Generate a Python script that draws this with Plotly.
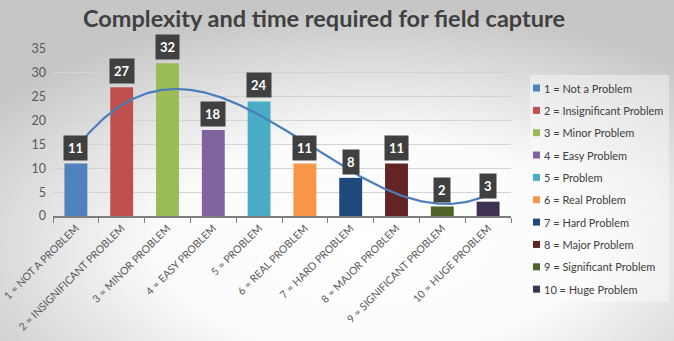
import numpy as np
import plotly.graph_objects as go
import base64

categories = ["1 = NOT A PROBLEM", "2 = INSIGNIFICANT PROBLEM", "3 = MINOR PROBLEM",
              "4 = EASY PROBLEM", "5 = PROBLEM", "6 = REAL PROBLEM", "7 = HARD PROBLEM",
              "8 = MAJOR PROBLEM", "9 = SIGNIFICANT PROBLEM", "10 = HUGE PROBLEM"]
legend_names = ["1 = Not a Problem", "2 = Insignificant Problem", "3 = Minor Problem",
                "4 = Easy Problem", "5 = Problem", "6 = Real Problem", "7 = Hard Problem",
                "8 = Major Problem", "9 = Significant Problem", "10 = Huge Problem"]
values = [11, 27, 32, 18, 24, 11, 8, 11, 2, 3]
colors = ["#4F81BD", "#C0504D", "#9BBB59", "#8064A2", "#4BACC6", "#F79646",
          "#1F497D", "#632523", "#4F6228", "#3F3151"]

# plot area geometry (pixels)
W, H = 674, 341
L, R, T, B = 53, 163, 49, 125
PW, PH = W - L - R, H - T - B


def px(x):
    return (x - L) / PW


def py(y):
    return (H - B - y) / PH


xs = list(range(1, len(values) + 1))
fig = go.Figure()
for i, (x, v, n, c) in enumerate(zip(xs, values, legend_names, colors)):
    fig.add_trace(go.Bar(x=[x], y=[v], name=n, marker=dict(color=c, line=dict(width=0)),
                         width=0.5, showlegend=False, hoverinfo="y"))

# polynomial trendline (order 3) fitted to the data
coef = np.polyfit(xs, values, 3)
xt = np.linspace(1, 10, 200)
fig.add_trace(go.Scatter(x=xt, y=np.polyval(coef, xt), mode="lines",
                         line=dict(color="#4A7EBB", width=2.2),
                         showlegend=False, hoverinfo="skip"))

for x, v in zip(xs, values):
    fig.add_annotation(x=x, y=v, text="<b>%d</b>" % v, showarrow=False, yanchor="bottom",
                       yshift=3, bgcolor="#404040", borderpad=4,
                       font=dict(color="white", size=13, family="Lato"))

# legend drawn manually
shapes = [dict(type="rect", xref="paper", yref="paper", x0=px(530), x1=px(669),
               y0=py(75), y1=py(302), fillcolor="rgba(255,255,255,0.4)",
               line=dict(width=0), layer="below")]
for i, (n, c) in enumerate(zip(legend_names, colors)):
    cy = 88 + i * 22.35
    shapes.append(dict(type="rect", xref="paper", yref="paper", x0=px(533), x1=px(540),
                       y0=py(cy + 3.5), y1=py(cy - 3.5), fillcolor=c, line=dict(width=0)))
    fig.add_annotation(xref="paper", yref="paper", x=px(542), y=py(cy), text=n,
                       showarrow=False, xanchor="left", yanchor="middle",
                       font=dict(size=11, color="#404040", family="Lato"))

svg = """<svg xmlns='http://www.w3.org/2000/svg' width='674' height='341'>
<defs><radialGradient id='g' cx='0.55' cy='0.72' r='0.7' fx='0.55' fy='0.72'>
<stop offset='0' stop-color='#ffffff'/><stop offset='0.45' stop-color='#fbfbfb'/>
<stop offset='1' stop-color='#c6c6c6'/></radialGradient></defs>
<rect width='674' height='341' fill='url(#g)'/></svg>"""
uri = "data:image/svg+xml;base64," + base64.b64encode(svg.encode()).decode()

fig.update_layout(
    width=W, height=H,
    margin=dict(l=L, r=R, t=T, b=B, autoexpand=False),
    paper_bgcolor="#dcdcdc", plot_bgcolor="rgba(0,0,0,0)",
    images=[dict(source=uri, xref="paper", yref="paper", x=-L / PW, y=1 + T / PH,
                 sizex=W / PW, sizey=H / PH, xanchor="left", yanchor="top",
                 sizing="stretch", layer="below")],
    shapes=shapes,
    title=dict(text="<b>Complexity and time required for field capture</b>",
               x=324 / W, xanchor="center", xref="container",
               y=1 - 19 / H, yanchor="middle",
               font=dict(family="Lato", size=23.5, color="#404040")),
    font=dict(family="Lato", color="#595959", size=11),
    showlegend=False,
    bargap=0.5,
)
fig.update_xaxes(range=[0.5, 10.5], tickmode="array", tickvals=xs, ticktext=categories,
                 tickangle=-45, showgrid=False, zeroline=False, showline=True,
                 linecolor="#7f7f7f", linewidth=2, ticks="", automargin=False,
                 ticklabeloverflow="allow",
                 minor=dict(tick0=0.5, dtick=1, ticks="outside", ticklen=5,
                            tickcolor="#7f7f7f", showgrid=False),
                 tickfont=dict(size=10.5, color="#595959"))
fig.update_yaxes(range=[0, 35], dtick=5, showgrid=True, gridcolor="#d4d4d4", gridwidth=1,
                 zeroline=False, showline=False, ticks="", automargin=False,
                 ticklabelstandoff=6,
                 tickfont=dict(size=12.5, color="#595959"))

fig.write_html("out.html")
